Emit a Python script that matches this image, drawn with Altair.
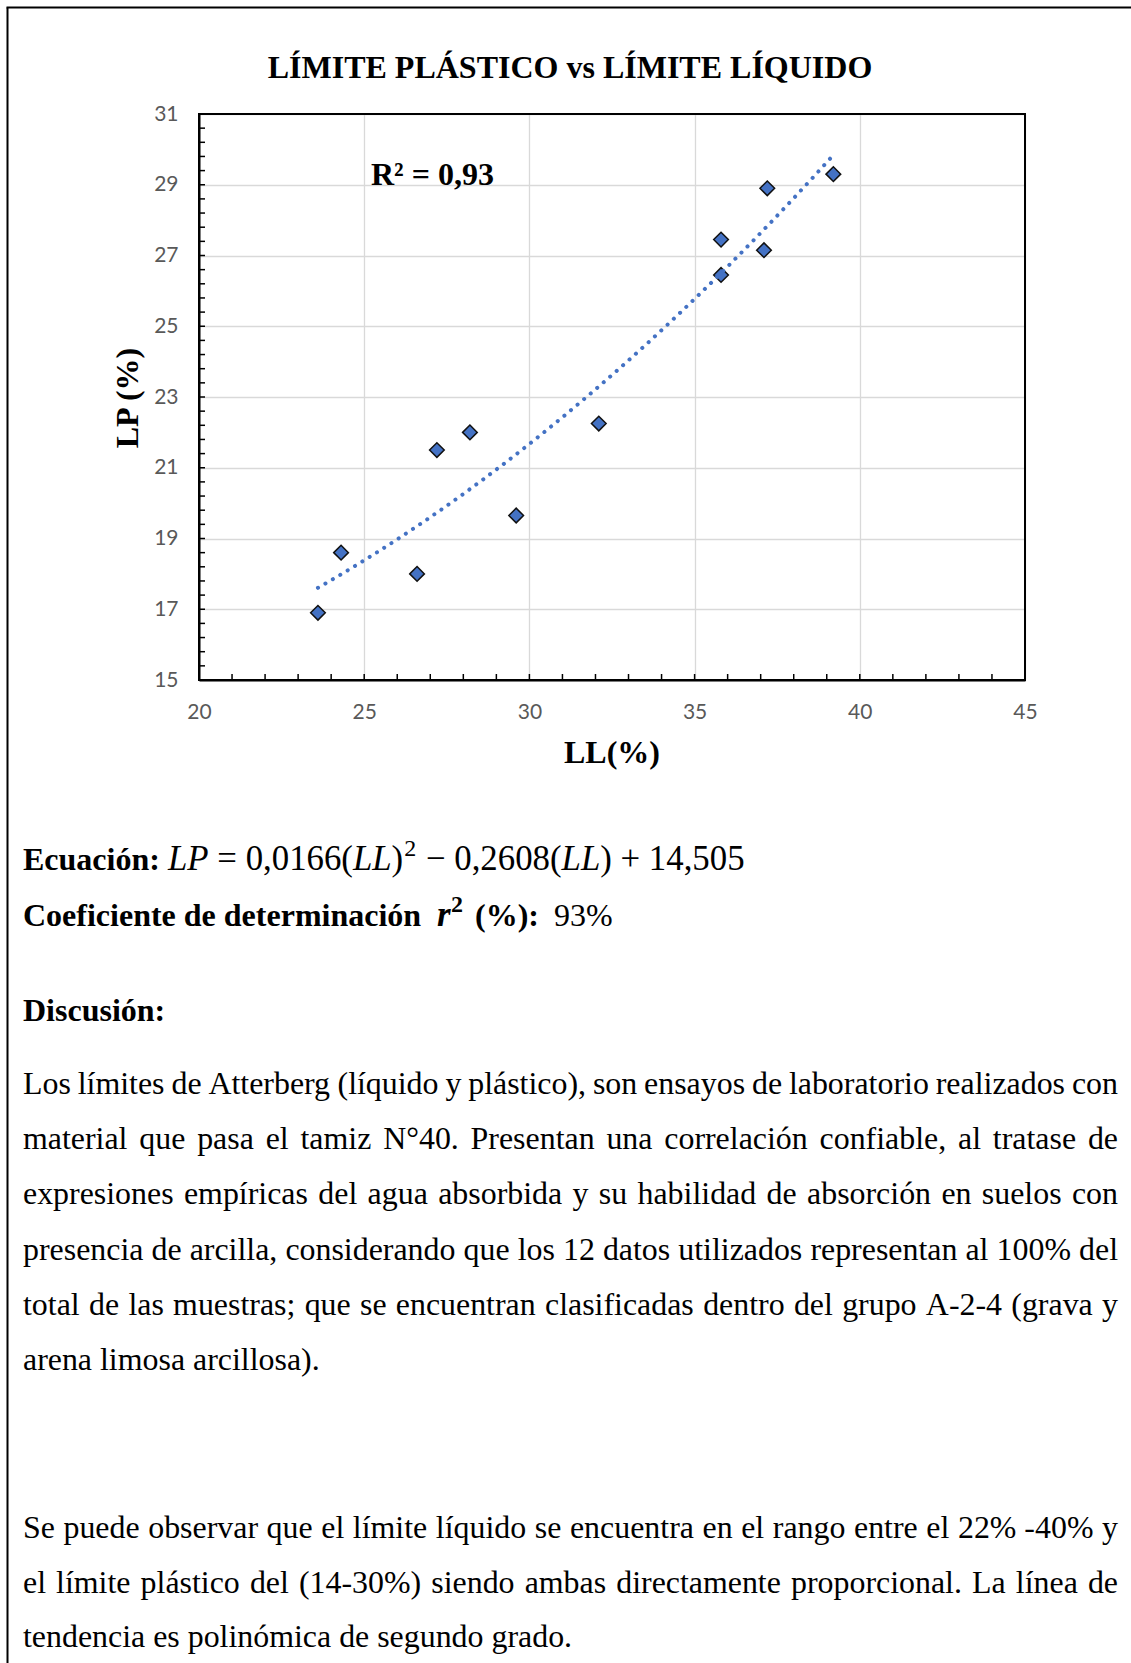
import altair as alt
import pandas as pd

# ---------------- data ----------------
LL = [23.6, 24.3, 26.6, 27.2, 28.2, 29.6, 32.1, 35.8, 35.8, 37.1, 37.2, 39.2]
LP = [16.9, 18.6, 18.0, 21.5, 22.0, 19.65, 22.25, 26.45, 27.45, 27.15, 28.9, 29.3]

X_MAJOR = [20, 25, 30, 35, 40, 45]
Y_MAJOR = [15, 17, 19, 21, 23, 25, 27, 29, 31]
X_MINOR = [21, 22, 23, 24, 25, 26, 27, 28, 29, 30, 31, 32, 33, 34, 35, 36, 37, 38, 39, 40,
           41, 42, 43, 44]
Y_MINOR = [round(15 + 0.4 * k, 1) for k in range(1, 40)]

TITLE = "LÍMITE PLÁSTICO vs LÍMITE LÍQUIDO"
X_TITLE = "LL(%)"
Y_TITLE = "LP (%)"
R2_TEXT = "R² = 0,93"

EQ_LABEL = "Ecuación:"
EQ_TOKENS = [("LP", "i"), (" = ", "n"), ("0,0166(", "n"), ("LL", "i"), (")", "n"), ("2", "sup"),
             (" − ", "n"), ("0,2608(", "n"), ("LL", "i"), (")", "n"), (" + ", "n"), ("14,505", "n")]
COEF_LABEL = "Coeficiente de determinación"
COEF_R = "r"
COEF_SUP = "2"
COEF_PCT = "(%):"
COEF_VALUE = "93%"
DISC_LABEL = "Discusión:"

PARA1 = [
    "Los límites de Atterberg (líquido y plástico), son ensayos de laboratorio realizados con",
    "material que pasa el tamiz N°40. Presentan una correlación confiable, al tratase de",
    "expresiones empíricas del agua absorbida y su habilidad de absorción en suelos con",
    "presencia de arcilla, considerando que los 12 datos utilizados representan al 100% del",
    "total de las muestras; que se encuentran clasificadas dentro del grupo A-2-4 (grava y",
    "arena limosa arcillosa).",
]
PARA2 = [
    "Se puede observar que el límite líquido se encuentra en el rango entre el 22%\u00a0-40% y",
    "el límite plástico del (14-30%) siendo ambas directamente proporcional. La línea de",
    "tendencia es polinómica de segundo grado.",
]

# ---------------- layout ----------------
OX, OY = 199, 114          # plot origin on the page
W, H = 826, 566            # plot size
PAGE_W, PAGE_H = 1131, 1663
LEFT, RIGHT = 23, 1118
BODY = 31.9
SERIF = "Liberation Serif"
BLUE = "#4472C4"

# Times metrics (1/1000 em)
_UP = "ABCDEFGHIJKLMNOPQRSTUVWXYZ"
_LO = "abcdefghijklmnopqrstuvwxyz"
ROMAN = dict(zip(_UP, [722, 667, 667, 722, 611, 556, 722, 722, 333, 389, 722, 611, 889, 722, 722,
                       556, 722, 667, 556, 611, 722, 722, 944, 722, 722, 611]))
ROMAN.update(zip(_LO, [444, 500, 444, 500, 444, 333, 500, 500, 278, 278, 500, 278, 778, 500, 500,
                       500, 500, 333, 389, 278, 500, 500, 722, 500, 500, 444]))
ROMAN.update({'%': 833, ':': 278, 'á': 444, 'é': 444, 'í': 278, 'ó': 500, 'ú': 500, 'ñ': 500,
              'Í': 333, 'Á': 722})
BOLD = dict(zip(_UP, [722, 667, 722, 722, 667, 611, 778, 778, 389, 500, 778, 667, 944, 722, 778,
                      611, 778, 722, 556, 667, 722, 722, 1000, 722, 722, 667]))
BOLD.update(zip(_LO, [500, 556, 444, 556, 444, 333, 500, 556, 278, 333, 556, 278, 833, 556, 500,
                      556, 556, 444, 389, 333, 556, 500, 722, 500, 500, 444]))
BOLD.update({'%': 1000, ':': 333, 'á': 500, 'é': 444, 'í': 278, 'ó': 500, 'ú': 556, 'ñ': 556,
             'Í': 389, 'Á': 722})
COMMON = {' ': 250, '\u00a0': 250, '(': 333, ')': 333, ',': 250, '.': 250, '-': 333, '°': 400,
          '²': 300, '=': 564, '+': 564, '−': 564, ';': 278}
for d in "0123456789":
    COMMON[d] = 500
ITALIC_OVR = {'L': 556, 'P': 611, 'r': 389}


def tw(s, kind, size):
    tab = BOLD if kind in ("b", "bi") else ROMAN
    tot = 0
    for ch in s:
        if kind in ("i", "bi") and ch in ITALIC_OVR:
            tot += ITALIC_OVR[ch]
        elif ch in COMMON:
            tot += COMMON[ch]
        else:
            tot += tab.get(ch, 500)
    return tot * size / 1000.0


rows = []


def add(text, x, y, size, kind, angle=0):
    rows.append(dict(text=text, x=x - OX, y=y - OY, size=size, kind=kind, angle=angle))


# title and axis titles
add(TITLE, 570, 78, 32, "bc")
add(X_TITLE, 612, 763, 32, "bc")
add(Y_TITLE, 138, 398, 32, "bc", 270)
add(R2_TEXT, 371, 184.5, 32, "b")

# equation line
Y_EQ = 870
add(EQ_LABEL, LEFT, Y_EQ, 32, "b")
x = 168
EQ_SIZE = 34.8
for tok, k in EQ_TOKENS:
    if k == "sup":
        add(tok, x + 1, Y_EQ - 14, 24, "n")
        x += tw(tok, "n", 24) + 2
    else:
        lead = len(tok) - len(tok.lstrip(" "))
        add(tok.strip(" "), x + tw(" " * lead, "n", EQ_SIZE), Y_EQ, EQ_SIZE, k)
        x += tw(tok, k, EQ_SIZE)

# coefficient line
Y_CO = 926
add(COEF_LABEL, LEFT, Y_CO, 32, "b")
add(COEF_R, 437, Y_CO, 35, "bi")
add(COEF_SUP, 451, Y_CO - 14, 24, "b")
add(COEF_PCT, 475, Y_CO, 32, "b")
add(COEF_VALUE, 554, Y_CO, 32, "n")

add(DISC_LABEL, LEFT, 1021, 32, "b")


def paragraph(lines, y0, step):
    for li, line in enumerate(lines):
        y = y0 + step * li
        if li == len(lines) - 1:
            add(line, LEFT, y, BODY, "n")
            continue
        words = line.split(" ")
        ws = [tw(w, "n", BODY) for w in words]
        gap = (RIGHT - LEFT - sum(ws)) / (len(words) - 1)
        xx = LEFT
        for i, (w, wd) in enumerate(zip(words, ws)):
            if i == len(words) - 1:
                add(w, RIGHT, y, BODY, "nr")
            else:
                add(w, xx, y, BODY, "n")
            xx += wd + gap


paragraph(PARA1, 1094, 55.2)
paragraph(PARA2, 1538, 54.6)

text_df = pd.DataFrame(rows)
pts = pd.DataFrame({"LL": LL, "LP": LP})

xscale = alt.Scale(domain=[20, 45], nice=False, zero=False)
yscale = alt.Scale(domain=[15, 31], nice=False, zero=False)

axis_common = dict(title=None, grid=True, gridColor="#d9d9d9", gridWidth=1.3,
                   domainColor="black", domainWidth=2, ticks=False, tickSize=0,
                   labelFont="Lato", labelFontSize=21, labelColor="#595959",
                   labelPadding=21, labelFlush=False, labelOverlap=False)
AX = alt.Axis(values=X_MAJOR, **axis_common)
AY = alt.Axis(values=Y_MAJOR, **axis_common)

points = alt.Chart(pts).mark_point(
    shape="diamond", filled=True, color=BLUE, fill=BLUE, stroke="#111111",
    strokeWidth=1.5, size=215, opacity=1
).encode(
    x=alt.X("LL:Q", scale=xscale, axis=AX),
    y=alt.Y("LP:Q", scale=yscale, axis=AY),
)

trend = alt.Chart(pts).transform_regression(
    "LL", "LP", method="poly", order=2
).mark_line(color=BLUE, strokeWidth=4, strokeDash=[0.1, 8.5], strokeCap="round").encode(
    x=alt.X("LL:Q", scale=xscale, axis=AX),
    y=alt.Y("LP:Q", scale=yscale, axis=AY),
)

xticks = alt.Chart(pd.DataFrame({"LL": X_MINOR})).mark_rule(color="black", strokeWidth=1.5).encode(
    x=alt.X("LL:Q", scale=xscale, axis=AX),
    y=alt.value(H), y2=alt.value(H - 6),
)
yticks = alt.Chart(pd.DataFrame({"LP": Y_MINOR})).mark_rule(color="black", strokeWidth=1.5).encode(
    y=alt.Y("LP:Q", scale=yscale, axis=AY),
    x=alt.value(0), x2=alt.value(6),
)

one = pd.DataFrame({"d": [0]})
# black border of the plot area, drawn above the grid
border = alt.Chart(one).mark_rect(fill=None, filled=False, stroke="black", strokeWidth=2).encode(
    x=alt.value(0), x2=alt.value(W), y=alt.value(0), y2=alt.value(H))
frame_left = alt.Chart(one).mark_rule(color="black", strokeWidth=2).encode(
    x=alt.value(7.5 - OX), y=alt.value(7.5 - OY), y2=alt.value(PAGE_H - OY + 20))
frame_top = alt.Chart(one).mark_rule(color="black", strokeWidth=2).encode(
    x=alt.value(6.5 - OX), x2=alt.value(PAGE_W - OX + 20), y=alt.value(7.5 - OY))


def text_layer(kind, **props):
    enc = dict(
        x=alt.X("x:Q", scale=None),
        y=alt.Y("y:Q", scale=None),
        size=alt.Size("size:Q", scale=None, legend=None),
        text="text:N",
    )
    if kind == "bc":
        enc["angle"] = alt.Angle("angle:Q", scale=None, legend=None)
    return alt.Chart(text_df).transform_filter(alt.datum.kind == kind).mark_text(
        font=SERIF, baseline="alphabetic", color="black", **props
    ).encode(**enc)


texts = [
    text_layer("n", align="left"),
    text_layer("nr", align="right"),
    text_layer("b", align="left", fontWeight="bold"),
    text_layer("i", align="left", fontStyle="italic"),
    text_layer("bi", align="left", fontWeight="bold", fontStyle="italic"),
    text_layer("bc", align="center", fontWeight="bold"),
]

chart = alt.layer(points, trend, xticks, yticks, border, frame_left, frame_top, *texts).properties(
    width=W, height=H,
    autosize=alt.AutoSizeParams(type="none"),
    padding={"left": OX, "top": OY, "right": PAGE_W - OX - W, "bottom": PAGE_H - OY - H},
    background="white",
).configure_view(stroke="black", strokeWidth=2)

chart.save("out.html", embed_options={"renderer": "svg", "actions": False})
